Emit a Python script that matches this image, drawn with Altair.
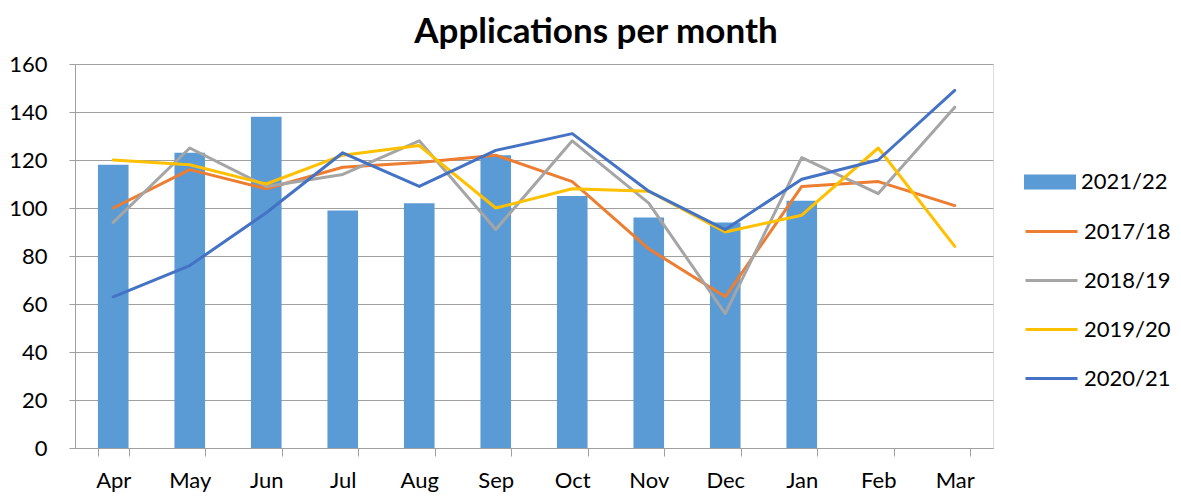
import altair as alt
import pandas as pd

months = ["Apr", "May", "Jun", "Jul", "Aug", "Sep", "Oct", "Nov", "Dec", "Jan", "Feb", "Mar"]
bars_2122 = [118, 123, 138, 99, 102, 122, 105, 96, 94, 103, None, None]
s_1718 = [100, 116, 108, 117, 119, 122, 111, 83, 63, 109, 111, 101]
s_1819 = [94, 125, 109, 114, 128, 91, 128, 102, 56, 121, 106, 142]
s_1920 = [120, 118, 110, 122, 126, 100, 108, 107, 90, 97, 125, 84]
s_2021 = [63, 76, 98, 123, 109, 124, 131, 107, 91, 112, 120, 149]

line_names = ["2017/18", "2018/19", "2019/20", "2020/21"]
line_colors = ["#ED7D31", "#A5A5A5", "#FFC000", "#4472C4"]
bar_name = "2021/22"
bar_color = "#5B9BD5"

FONT = "Lato"

bar_df = pd.DataFrame({"month": months, "value": bars_2122, "series": bar_name}).dropna()
rows = []
for name, vals in zip(line_names, [s_1718, s_1819, s_1920, s_2021]):
    for m, v in zip(months, vals):
        rows.append({"month": m, "value": v, "series": name})
line_df = pd.DataFrame(rows)

x_enc = alt.X(
    "month:N",
    sort=months,
    scale=alt.Scale(domain=months, paddingInner=0.6, paddingOuter=0.3),
    axis=alt.Axis(
        title=None, labelAngle=0, tickBand="extent", labelFont=FONT, labelFontSize=22,
        labelColor="#000000", domainColor="#A0A0A0", tickColor="#A0A0A0", tickSize=8,
        labelPadding=14, grid=False,
    ),
)
y_enc = alt.Y(
    "value:Q",
    scale=alt.Scale(domain=[0, 160], nice=False),
    axis=alt.Axis(
        title=None, values=list(range(0, 161, 20)), labelFont=FONT, labelFontSize=22,
        labelColor="#000000", domainColor="#A0A0A0", tickColor="#A0A0A0", tickSize=6,
        labelPadding=22, gridColor="#A0A0A0", gridWidth=1,
    ),
)

bars = alt.Chart(bar_df).mark_bar(color=bar_color).encode(
    x=x_enc,
    y=y_enc,
    fill=alt.Fill(
        "series:N",
        scale=alt.Scale(domain=[bar_name], range=[bar_color]),
        legend=alt.Legend(
            title=None, orient="none", legendX=949, legendY=92,
            symbolType="M-1,-0.29H1V0.29H-1Z", symbolSize=2704, symbolStrokeWidth=0,
            labelFont=FONT, labelFontSize=22, labelColor="#000000", labelOffset=5,
            padding=0,
        ),
    ),
)

lines = alt.Chart(line_df).mark_line(strokeWidth=3, strokeCap="round", strokeJoin="round").encode(
    x=x_enc,
    y=y_enc,
    stroke=alt.Stroke(
        "series:N",
        scale=alt.Scale(domain=line_names, range=line_colors),
        legend=alt.Legend(
            title=None, orient="none", legendX=949, legendY=140,
            symbolType="stroke", symbolSize=2704, symbolStrokeWidth=3,
            labelFont=FONT, labelFontSize=22, labelColor="#000000", labelOffset=5,
            rowPadding=10, padding=0,
        ),
    ),
)

chart = alt.layer(bars, lines).resolve_scale(fill="independent", stroke="independent").properties(
    width=918,
    height=384,
    autosize=alt.AutoSizeParams(type="none"),
    padding={"left": 67, "top": 56, "right": 180, "bottom": 49},
    title=alt.TitleParams(
        "Applications per month", font=FONT, fontSize=35, fontWeight="bold",
        color="#000000", anchor="middle", dx=62, offset=3,
    ),
).configure_view(stroke=None).configure(background="white")

chart.save("out.html", embed_options={"renderer": "svg", "actions": False})
